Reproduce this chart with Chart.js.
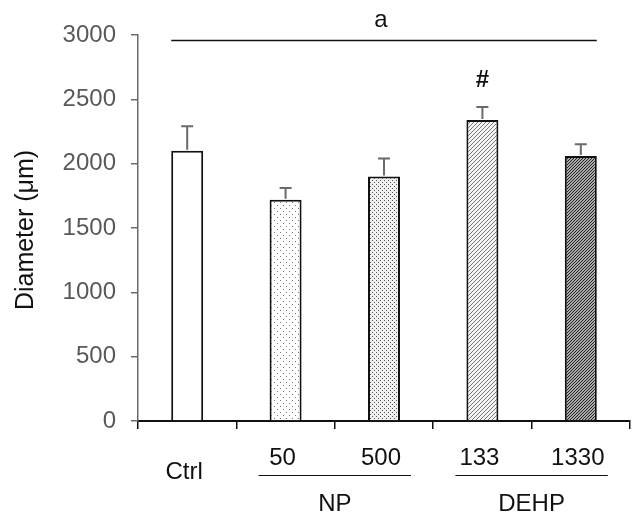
<!DOCTYPE html>
<html>
<head>
<meta charset="utf-8">
<script src="https://cdn.jsdelivr.net/npm/chart.js@4.4.1/dist/chart.umd.min.js"></script>
<style>
  html, body { margin: 0; padding: 0; background: #fff; }
  #wrap { width: 632px; height: 514px; }
</style>
</head>
<body>
<div id="wrap"><canvas id="chart" width="632" height="514"></canvas></div>
<script>
// data
const categories = ['Ctrl', '50', '500', '133', '1330'];
const diameters = [2100, 1720, 1900, 2340, 2060];
const errors = [190, 90, 140, 100, 90];
const markers = ['', '', '', '#', ''];
const groups = [
    { name: 'NP', from: 1, to: 2 },
    { name: 'DEHP', from: 3, to: 4 }
];
const yTicks = [0, 500, 1000, 1500, 2000, 2500, 3000];
const topLabel = 'a';

const FONT = '"Liberation Sans", Arial, sans-serif';

// fill patterns for the bars
function makePattern(size, bg, fg, pixels) {
    const c = document.createElement('canvas');
    c.width = size; c.height = size;
    const g = c.getContext('2d');
    g.fillStyle = bg;
    g.fillRect(0, 0, size, size);
    g.fillStyle = fg;
    pixels.forEach(p => g.fillRect(p[0], p[1], 1, 1));
    return g.createPattern(c, 'repeat');
}
const ctx = document.getElementById('chart').getContext('2d');
const fills = [
    '#ffffff',
    makePattern(6, '#ffffff', '#777777', [[1, 1], [4, 4]]),
    makePattern(4, '#f0f0f0', '#555555', [[0, 0], [2, 2]]),
    makePattern(4, '#f4f4f4', '#777777', [[3, 0], [2, 1], [1, 2], [0, 3]]),
    makePattern(3, '#aaaaaa', '#222222', [[2, 0], [1, 1], [0, 2]])
];

const extras = {
    id: 'extras',
    afterDatasetsDraw(chart) {
        const g = chart.ctx;
        const x = chart.scales.x, y = chart.scales.y;
        const meta = chart.getDatasetMeta(0);
        g.save();
        // error bars (upper only)
        g.strokeStyle = '#6a6a6a';
        g.lineWidth = 2;
        meta.data.forEach((bar, i) => {
            const top = y.getPixelForValue(diameters[i] + errors[i]);
            g.beginPath();
            g.moveTo(bar.x, bar.y - 1);
            g.lineTo(bar.x, top);
            g.moveTo(bar.x - 6, top);
            g.lineTo(bar.x + 6, top);
            g.stroke();
        });
        // significance marks
        g.fillStyle = '#111';
        g.font = 'bold 24px ' + FONT;
        g.textAlign = 'center';
        g.textBaseline = 'alphabetic';
        meta.data.forEach((bar, i) => {
            if (!markers[i]) return;
            const top = y.getPixelForValue(diameters[i] + errors[i]);
            g.fillText(markers[i], bar.x, top - 20);
        });
        // line over all groups with letter
        const first = meta.data[0], last = meta.data[meta.data.length - 1];
        const lx1 = first.x - first.width / 2, lx2 = last.x + last.width / 2;
        g.strokeStyle = '#111';
        g.lineWidth = 1.5;
        g.beginPath();
        g.moveTo(lx1, 40.5);
        g.lineTo(lx2, 40.5);
        g.stroke();
        g.font = '24px ' + FONT;
        g.fillText(topLabel, (lx1 + lx2) / 2 - 3, 27);

        // category labels
        g.font = '24px ' + FONT;
        categories.forEach((c, i) => {
            const cx = x.getPixelForValue(i) - 3;
            g.fillText(c, cx, i === 0 ? 479 : 465);
        });
        // group lines and names
        groups.forEach(gr => {
            const a = x.getPixelForValue(gr.from) - 27;
            const b = x.getPixelForValue(gr.to) + 27;
            g.lineWidth = 1.2;
            g.beginPath();
            g.moveTo(a, 475.5);
            g.lineTo(b, 475.5);
            g.stroke();
            g.fillText(gr.name, (a + b) / 2, 511);
        });

        // y title
        g.translate(33, 230);
        g.rotate(-Math.PI / 2);
        g.font = '25px ' + FONT;
        g.fillText('Diameter (\u03bcm)', 0, 0);
        g.restore();
    }
};

new Chart(ctx, {
    type: 'bar',
    data: {
        labels: categories,
        datasets: [{
            data: diameters,
            backgroundColor: fills,
            borderColor: '#111',
            borderWidth: 2,
            barPercentage: 0.325,
            categoryPercentage: 1
        }]
    },
    options: {
        responsive: false,
        animation: false,
        events: [],
        layout: { padding: { top: 35, right: 2, left: 0, bottom: 0 } },
        plugins: {
            legend: { display: false },
            tooltip: { enabled: false }
        },
        scales: {
            x: {
                grid: {
                    display: true,
                    drawOnChartArea: false,
                    offset: true,
                    color: '#111',
                    tickLength: 8,
                    lineWidth: 1.5
                },
                border: { color: '#111', width: 2 },
                ticks: { display: false },
                afterFit(scale) { scale.height = 93; }
            },
            y: {
                min: 0,
                max: 3000,
                afterBuildTicks(scale) {
                    scale.ticks = yTicks.map(v => ({ value: v }));
                },
                grid: {
                    drawOnChartArea: false,
                    color: '#6a6a6a',
                    tickLength: 7,
                    lineWidth: 1.5
                },
                border: { color: '#6a6a6a', width: 1.5 },
                ticks: {
                    color: '#595959',
                    padding: 15,
                    font: { family: FONT, size: 24 },
                    callback: v => String(v)
                },
                afterFit(scale) { scale.width = 138; }
            }
        }
    },
    plugins: [extras]
});
</script>
</body>
</html>
